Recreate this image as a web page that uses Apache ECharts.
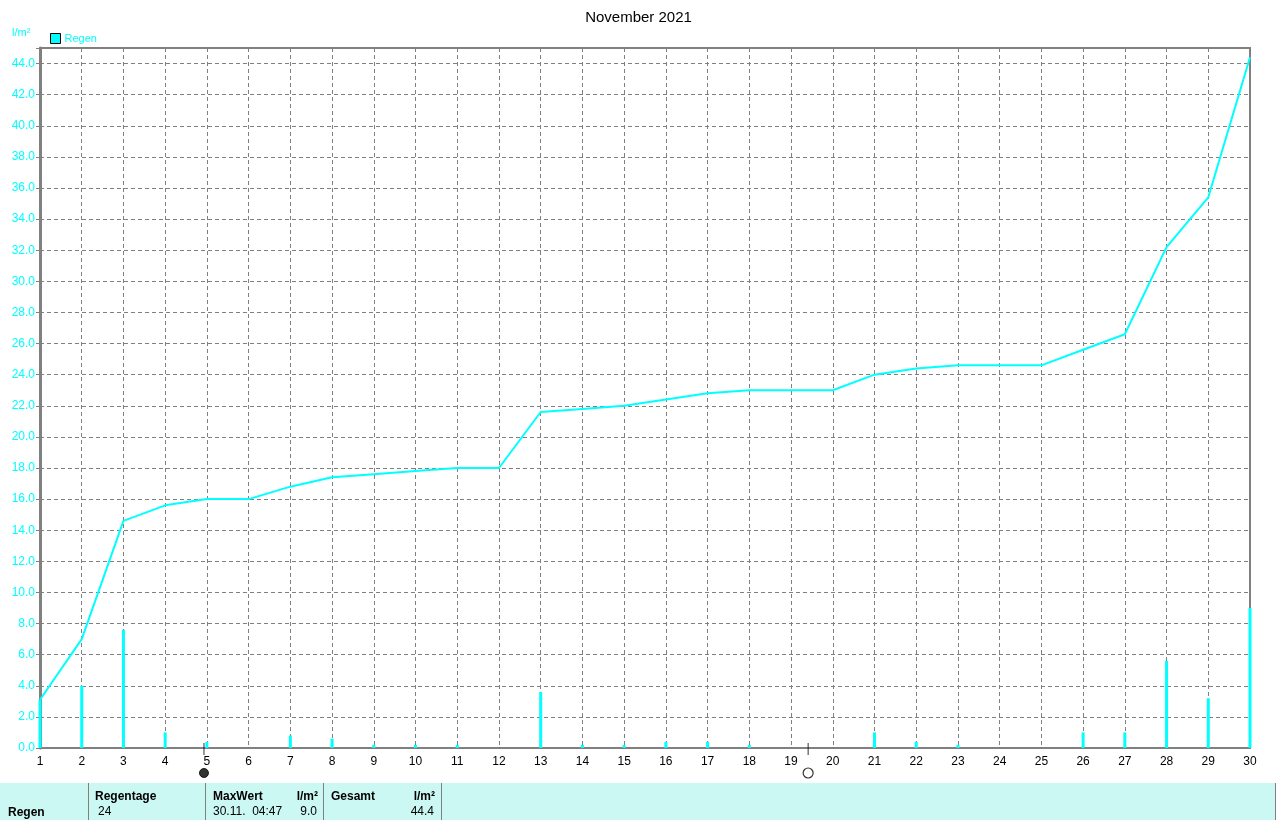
<!DOCTYPE html>
<html>
<head>
<meta charset="utf-8">
<script src="https://cdn.jsdelivr.net/npm/echarts@6/dist/echarts.min.js"></script>
<style>
html,body{margin:0;padding:0;background:#fff;}
#chart{width:1277px;height:820px;}
</style>
</head>
<body>
<div id="chart"></div>
<script>
// Data
const days = [1,2,3,4,5,6,7,8,9,10,11,12,13,14,15,16,17,18,19,20,21,22,23,24,25,26,27,28,29,30];
const dailyRain = [3.1,4.0,7.6,1.0,0.4,0,0.8,0.6,0.2,0.2,0.2,0,3.6,0.2,0.2,0.4,0.4,0.2,0,0,1.0,0.4,0.2,0,0,1.0,1.0,5.6,3.2,9.0];
const cumulativeRain = [3.1,7.0,14.6,15.6,16.0,16.0,16.8,17.4,17.6,17.8,18.0,18.0,21.6,21.8,22.0,22.4,22.8,23.0,23.0,23.0,24.0,24.4,24.6,24.6,24.6,25.6,26.6,32.2,35.4,44.4];
const newMoonDay = 4.93;
const fullMoonDay = 19.41;
const title = 'November 2021';
const seriesName = 'Regen';
const unit = 'l/m²';
const tableHeaders = ['Regentage', 'MaxWert', 'Gesamt'];
const rainDays = '24';
const maxWhen = '30.11.  04:47';
const maxValue = '9.0';
const totalValue = '44.4';

const CYAN = '#00ffff';
const GRAY = '#808080';
const FONT = 'Liberation Sans, Arial, sans-serif';

const chart = echarts.init(document.getElementById('chart'), null, {renderer: 'canvas'});

const tableTop = 783;
const txt = (x, y, text, opts = {}) => ({
  type: 'text', x, y,
  style: Object.assign({text, fill: '#000', font: (opts.bold ? 'bold ' : '') + '12px ' + FONT,
    textAlign: opts.align || 'left', textVerticalAlign: 'middle'}, opts.style || {}),
  z: 100
});

chart.setOption({
  animation: false,
  backgroundColor: '#fff',
  title: {
    text: title, left: 'center', top: 5,
    textStyle: {fontFamily: FONT, fontSize: 15, fontWeight: 'normal', color: '#000'}
  },
  legend: {
    left: 45, top: 28, itemWidth: 10, itemHeight: 10, itemGap: 4,
    icon: 'rect',
    data: [{name: seriesName, itemStyle: {color: CYAN, borderColor: '#000', borderWidth: 1}}],
    textStyle: {color: CYAN, fontFamily: FONT, fontSize: 11, padding: [0,0,0,-1]}
  },
  grid: {left: 40, right: 27, top: 48, bottom: 72, show: true, borderColor: GRAY, borderWidth: 2, backgroundColor: 'transparent'},
  xAxis: {
    type: 'value', min: 1, max: 30, interval: 1,
    axisLine: {show: true, lineStyle: {color: GRAY, width: 2}},
    axisTick: {show: false},
    axisLabel: {color: '#000', fontFamily: FONT, fontSize: 12, margin: 8},
    splitLine: {show: true, lineStyle: {color: GRAY, type: [4, 3], width: 1}}
  },
  yAxis: {
    type: 'value', min: 0, max: 45, interval: 2,
    axisLine: {show: true, lineStyle: {color: GRAY, width: 3}},
    axisTick: {show: true, length: 4, lineStyle: {color: GRAY}},
    axisLabel: {color: CYAN, fontFamily: FONT, fontSize: 12, margin: 5,
      formatter: v => (v > 44 ? '' : v.toFixed(1))},
    splitLine: {show: true, lineStyle: {color: GRAY, type: [4, 3], width: 1}}
  },
  series: [
    {
      name: seriesName, type: 'bar', barWidth: 3,
      itemStyle: {color: CYAN},
      data: days.map((d, i) => [d, dailyRain[i]]),
      z: 3
    },
    {
      name: seriesName, type: 'line', symbol: 'none',
      lineStyle: {color: CYAN, width: 2},
      itemStyle: {color: CYAN},
      data: days.map((d, i) => [d, cumulativeRain[i]]),
      z: 4
    },
    {
      name: 'moon', type: 'scatter', clip: false, silent: true,
      data: [
        {value: [newMoonDay, 0], symbol: 'rect', symbolSize: [1, 12], symbolOffset: [0, 1], itemStyle: {color: '#000'}},
        {value: [fullMoonDay, 0], symbol: 'rect', symbolSize: [1, 12], symbolOffset: [0, 1], itemStyle: {color: '#000'}},
        {value: [newMoonDay, 0], symbol: 'circle', symbolSize: 9, symbolOffset: [0, 25], itemStyle: {color: '#000', borderColor: '#000', borderWidth: 1}},
        {value: [fullMoonDay, 0], symbol: 'circle', symbolSize: 10, symbolOffset: [0, 25], itemStyle: {color: '#fff', borderColor: '#000', borderWidth: 1.2}}
      ],
      z: 5
    }
  ],
  graphic: [
    txt(12, 33, unit, {style: {fill: CYAN, font: '11px ' + FONT}}),
    {type: 'rect', shape: {x: 0, y: tableTop, width: 1275, height: 820 - tableTop}, style: {fill: '#ccf8f4'}, z: 90},
    {type: 'line', shape: {x1: 1275.5, y1: tableTop, x2: 1275.5, y2: 820}, style: {stroke: GRAY, lineWidth: 1}, z: 91},
    {type: 'line', shape: {x1: 88.5, y1: tableTop, x2: 88.5, y2: 820}, style: {stroke: GRAY, lineWidth: 1}, z: 91},
    {type: 'line', shape: {x1: 205.5, y1: tableTop, x2: 205.5, y2: 820}, style: {stroke: GRAY, lineWidth: 1}, z: 91},
    {type: 'line', shape: {x1: 323.5, y1: tableTop, x2: 323.5, y2: 820}, style: {stroke: GRAY, lineWidth: 1}, z: 91},
    {type: 'line', shape: {x1: 441.5, y1: tableTop, x2: 441.5, y2: 820}, style: {stroke: GRAY, lineWidth: 1}, z: 91},
    txt(8, 813, seriesName, {bold: true}),
    txt(95, 797, tableHeaders[0], {bold: true}),
    txt(98, 812, rainDays),
    txt(213, 797, tableHeaders[1], {bold: true}),
    txt(318, 797, unit, {bold: true, align: 'right'}),
    txt(213, 812, maxWhen),
    txt(317, 812, maxValue, {align: 'right'}),
    txt(331, 797, tableHeaders[2], {bold: true}),
    txt(435, 797, unit, {bold: true, align: 'right'}),
    txt(434, 812, totalValue, {align: 'right'})
  ]
});
</script>
</body>
</html>
